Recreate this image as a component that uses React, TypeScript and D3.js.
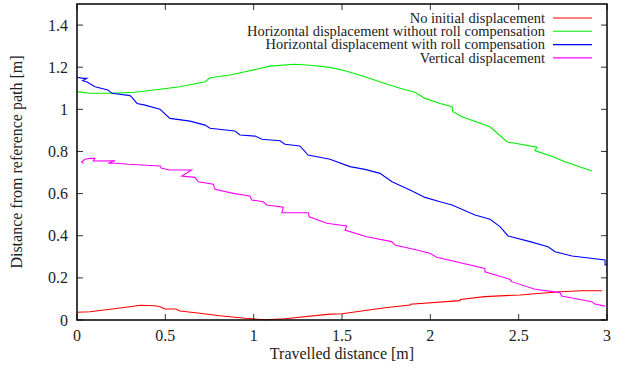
import React from 'react';
import * as d3 from 'd3';

// travelled distance [m] / distance from reference path [m]
const noDispX = [0, 0.074, 0.187, 0.3, 0.357, 0.442, 0.47, 0.498, 0.56, 0.583, 0.696, 0.809, 0.951, 1.064, 1.177, 1.432, 1.5, 1.743, 1.885, 1.886, 2.168, 2.17, 2.309, 2.508, 2.734, 2.858, 2.972];
const noDispY = [0.037, 0.039, 0.051, 0.063, 0.07, 0.068, 0.063, 0.052, 0.052, 0.043, 0.032, 0.02, 0.008, 0.001, 0.006, 0.028, 0.03, 0.058, 0.071, 0.075, 0.092, 0.097, 0.111, 0.119, 0.134, 0.139, 0.139];

const noRollX = [0, 0.074, 0.187, 0.328, 0.47, 0.583, 0.725, 0.753, 0.866, 0.951, 1.092, 1.234, 1.319, 1.432, 1.517, 1.63, 1.743, 1.828, 1.913, 1.97, 2.055, 2.123, 2.128, 2.179, 2.338, 2.434, 2.604, 2.592, 2.694, 2.762, 2.915];
const noRollY = [1.084, 1.076, 1.076, 1.081, 1.095, 1.107, 1.131, 1.15, 1.163, 1.178, 1.205, 1.214, 1.209, 1.199, 1.183, 1.155, 1.123, 1.1, 1.081, 1.052, 1.028, 1.012, 0.989, 0.965, 0.917, 0.846, 0.82, 0.804, 0.775, 0.751, 0.707];

const rollX = [0, 0.034, 0.055, 0.032, 0.057, 0.102, 0.175, 0.198, 0.3, 0.311, 0.34, 0.385, 0.47, 0.526, 0.64, 0.725, 0.753, 0.894, 0.923, 1.008, 1.047, 1.149, 1.177, 1.262, 1.308, 1.432, 1.545, 1.63, 1.715, 1.783, 1.885, 1.97, 2.055, 2.123, 2.253, 2.338, 2.394, 2.44, 2.564, 2.666, 2.706, 2.802, 2.989, 2.989, 3.0];
const rollY = [1.152, 1.147, 1.147, 1.136, 1.13, 1.107, 1.092, 1.076, 1.065, 1.057, 1.028, 1.02, 1.0, 0.957, 0.944, 0.925, 0.91, 0.897, 0.878, 0.873, 0.858, 0.851, 0.834, 0.826, 0.783, 0.763, 0.728, 0.715, 0.696, 0.656, 0.617, 0.582, 0.561, 0.546, 0.498, 0.478, 0.443, 0.399, 0.372, 0.348, 0.324, 0.304, 0.285, 0.261, 0.261];

const vertX = [0.036, 0.027, 0.045, 0.074, 0.102, 0.092, 0.215, 0.177, 0.225, 0.29, 0.47, 0.479, 0.526, 0.649, 0.593, 0.668, 0.687, 0.772, 0.781, 0.885, 0.979, 0.989, 1.055, 1.074, 1.168, 1.159, 1.309, 1.315, 1.413, 1.527, 1.517, 1.64, 1.781, 1.8, 1.923, 1.998, 2.036, 2.309, 2.309, 2.451, 2.46, 2.592, 2.734, 2.743, 2.809, 2.913, 2.932, 2.989];
const vertY = [0.744, 0.751, 0.763, 0.767, 0.767, 0.755, 0.756, 0.744, 0.744, 0.739, 0.731, 0.72, 0.712, 0.712, 0.683, 0.677, 0.656, 0.645, 0.62, 0.601, 0.589, 0.57, 0.561, 0.546, 0.535, 0.509, 0.509, 0.49, 0.459, 0.446, 0.427, 0.395, 0.372, 0.356, 0.332, 0.317, 0.298, 0.245, 0.229, 0.193, 0.182, 0.146, 0.13, 0.114, 0.103, 0.087, 0.076, 0.066];

const seriesNames = [
  'No initial displacement',
  'Horizontal displacement without roll compensation',
  'Horizontal displacement with roll compensation',
  'Vertical displacement',
];
const seriesColors = ['#ff0000', '#00ee00', '#0000ff', '#ff00ff'];
const xTicks = [0, 0.5, 1, 1.5, 2, 2.5, 3];
const yTicks = [0, 0.2, 0.4, 0.6, 0.8, 1, 1.2, 1.4];

export default function App() {
  const width = 629;
  const height = 369;
  const margin = { top: 4, right: 22, bottom: 49, left: 77 };
  const innerW = width - margin.left - margin.right;
  const innerH = height - margin.top - margin.bottom;

  const x = d3.scaleLinear().domain([0, 3]).range([0, innerW]);
  const y = d3.scaleLinear().domain([0, 1.5]).range([innerH, 0]);

  const series = [
    noDispX.map((v, i) => [v, noDispY[i]]),
    noRollX.map((v, i) => [v, noRollY[i]]),
    rollX.map((v, i) => [v, rollY[i]]),
    vertX.map((v, i) => [v, vertY[i]]),
  ] as [number, number][][];

  const line = d3.line<[number, number]>()
    .x(d => x(d[0]))
    .y(d => y(d[1]));

  const font = 'Liberation Serif, Tinos, Times New Roman, Times, DejaVu Serif, serif';
  const tickLen = 6;

  return (
    <svg width={width} height={height}
      style={{ position: 'absolute', left: 0, top: 0, background: '#fff' }}>
      <g transform={`translate(${margin.left},${margin.top})`} fontFamily={font} fill="#222">
        {series.map((pts, i) => (
          <path key={i} d={line(pts) || ''} fill="none" stroke={seriesColors[i]} strokeWidth={1.1} />
        ))}

        {yTicks.map(t => (
          <g key={'y' + t}>
            <line x1={0} x2={tickLen} y1={y(t)} y2={y(t)} stroke="#333" />
            <line x1={innerW} x2={innerW - tickLen} y1={y(t)} y2={y(t)} stroke="#333" />
            <text x={-9} y={y(t)} dy="0.35em" textAnchor="end" fontSize={16}>{t}</text>
          </g>
        ))}
        {xTicks.map(t => (
          <g key={'x' + t}>
            <line x1={x(t)} x2={x(t)} y1={innerH} y2={innerH - tickLen} stroke="#333" />
            <line x1={x(t)} x2={x(t)} y1={0} y2={tickLen} stroke="#333" />
            <text x={x(t)} y={innerH + 21} textAnchor="middle" fontSize={16}>{t}</text>
          </g>
        ))}

        <rect x={0} y={0} width={innerW} height={innerH} fill="none" stroke="#000" strokeWidth={1.5} />

        {seriesNames.map((name, i) => {
          const ly = 14 + i * 13.3;
          return (
            <g key={name}>
              <text x={468} y={ly} dy="0.33em" textAnchor="end" fontSize={14.5}>{name}</text>
              <line x1={476} x2={515} y1={ly} y2={ly} stroke={seriesColors[i]} strokeWidth={1.1} />
            </g>
          );
        })}

        <text x={innerW / 2} y={innerH + 39} textAnchor="middle" fontSize={16}>Travelled distance [m]</text>
        <text transform={`translate(${-55},${innerH / 2}) rotate(-90)`} textAnchor="middle" fontSize={16}>
          Distance from reference path [m]
        </text>
      </g>
    </svg>
  );
}
